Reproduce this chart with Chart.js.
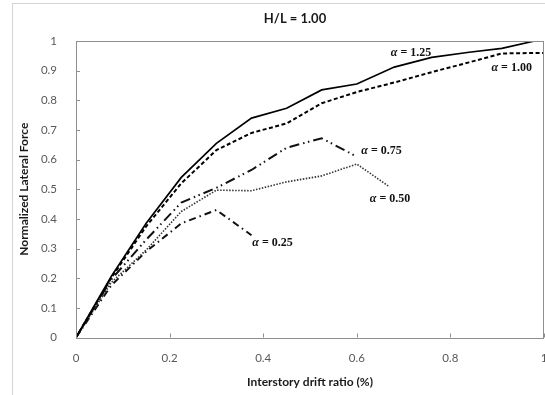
<!DOCTYPE html>
<html>
<head>
<meta charset="utf-8">
<script src="https://cdn.jsdelivr.net/npm/chart.js@4/dist/chart.umd.min.js"></script>
<style>
  body { margin: 0; background: #fff; }
  canvas { display: block; }
</style>
</head>
<body>
<canvas id="grafico" width="545" height="395"></canvas>
<script>
// drift ratio (%) and normalized force, one pair of arrays per alpha
const driftA125 = [0, 0.075, 0.15, 0.225, 0.3, 0.375, 0.45, 0.525, 0.6, 0.68, 0.76, 0.84, 0.91, 0.98, 1.0]
const forceA125 = [0, 0.205, 0.385, 0.54, 0.655, 0.74, 0.773, 0.835, 0.855, 0.912, 0.945, 0.962, 0.975, 1.0, 1.0]

const driftA100 = [0, 0.075, 0.15, 0.225, 0.3, 0.375, 0.45, 0.525, 0.6, 0.68, 0.76, 0.84, 0.91, 1.0]
const forceA100 = [0, 0.2, 0.375, 0.52, 0.632, 0.69, 0.722, 0.79, 0.828, 0.86, 0.895, 0.928, 0.958, 0.96]

const driftA075 = [0, 0.075, 0.15, 0.225, 0.3, 0.375, 0.45, 0.525, 0.6]
const forceA075 = [0, 0.195, 0.33, 0.455, 0.505, 0.565, 0.64, 0.672, 0.61]

const driftA050 = [0, 0.075, 0.15, 0.225, 0.3, 0.375, 0.45, 0.525, 0.6, 0.67]
const forceA050 = [0, 0.185, 0.295, 0.425, 0.497, 0.495, 0.525, 0.545, 0.585, 0.508]

const driftA025 = [0, 0.075, 0.15, 0.225, 0.3, 0.375]
const forceA025 = [0, 0.175, 0.29, 0.385, 0.43, 0.345]

const alphaLabels = ['1.25', '1.00', '0.75', '0.50', '0.25']
const xTicks = [0, 0.2, 0.4, 0.6, 0.8, 1]
const yTicks = [0, 0.1, 0.2, 0.3, 0.4, 0.5, 0.6, 0.7, 0.8, 0.9, 1]

function pares(xs, ys) {
    return xs.map((x, i) => ({ x: x, y: ys[i] }))
}

function rotulo(v) {
    return String(Math.round(v * 10) / 10)
}

// where each alpha label sits, in data units
const labelPos = [
    { x: 0.716, y: 0.96 },
    { x: 0.931, y: 0.909 },
    { x: 0.653, y: 0.63 },
    { x: 0.671, y: 0.467 },
    { x: 0.42, y: 0.32 }
]

const extras = {
    id: 'extras',
    afterDraw(chart) {
        const ctx = chart.ctx
        const a = chart.chartArea
        const sx = chart.scales.x
        const sy = chart.scales.y
        ctx.save()

        // outer frame
        ctx.strokeStyle = '#d4d4d4'
        ctx.lineWidth = 1
        ctx.strokeRect(12.5, 3.5, 700, 600)

        // plot box
        ctx.strokeStyle = '#8e8e8e'
        ctx.strokeRect(Math.round(a.left) + 0.5, Math.round(a.top) + 0.5,
            Math.round(a.right - a.left) - 1, Math.round(a.bottom - a.top))

        // inside tick marks
        ctx.beginPath()
        xTicks.forEach(v => {
            const px = Math.round(sx.getPixelForValue(v)) + 0.5
            ctx.moveTo(px, a.bottom)
            ctx.lineTo(px, a.bottom - 4)
        })
        yTicks.forEach(v => {
            const py = Math.round(sy.getPixelForValue(v)) + 0.5
            ctx.moveTo(a.left, py)
            ctx.lineTo(a.left + 4, py)
        })
        ctx.stroke()

        // title
        ctx.fillStyle = '#1a1a1a'
        ctx.font = '700 13px Lato'
        ctx.textAlign = 'center'
        ctx.textBaseline = 'middle'
        ctx.fillText('H/L = 1.00', 295, 19)

        // alpha labels
        ctx.fillStyle = '#111'
        ctx.textAlign = 'left'
        alphaLabels.forEach((t, i) => {
            const p = labelPos[i]
            const cx = sx.getPixelForValue(p.x)
            const cy = sy.getPixelForValue(p.y)
            const rest = ' = ' + t
            ctx.font = 'italic bold 12px "Liberation Serif"'
            const w1 = ctx.measureText('α').width
            ctx.font = 'bold 12px "Liberation Serif"'
            const w2 = ctx.measureText(rest).width
            const x0 = cx - (w1 + w2) / 2
            ctx.font = 'italic bold 12px "Liberation Serif"'
            ctx.fillText('α', x0, cy)
            ctx.font = 'bold 12px "Liberation Serif"'
            ctx.fillText(rest, x0 + w1, cy)
        })
        ctx.restore()
    }
}

const data = {
    datasets: [
        {
            label: 'α = 1.25',
            data: pares(driftA125, forceA125),
            borderColor: '#000',
            borderWidth: 1.7
        },
        {
            label: 'α = 1.00',
            data: pares(driftA100, forceA100),
            borderColor: '#000',
            borderWidth: 2,
            borderDash: [4, 2.5]
        },
        {
            label: 'α = 0.75',
            data: pares(driftA075, forceA075),
            borderColor: '#111',
            borderWidth: 2,
            borderDash: [10, 4, 1.5, 3.5, 1.5, 4]
        },
        {
            label: 'α = 0.50',
            data: pares(driftA050, forceA050),
            borderColor: '#333',
            borderWidth: 1.6,
            borderDash: [1.5, 1.5]
        },
        {
            label: 'α = 0.25',
            data: pares(driftA025, forceA025),
            borderColor: '#111',
            borderWidth: 2,
            borderDash: [7, 4, 1.5, 4]
        }
    ]
}

const tickFont = { family: 'Lato', size: 11.5 }
const titleFont = { family: 'Lato', size: 12, weight: 'bold' }

const config = {
    type: 'line',
    data: data,
    options: {
        responsive: false,
        animation: false,
        devicePixelRatio: 1,
        layout: { padding: { left: 0, right: 1, top: 41, bottom: 0 } },
        elements: { point: { radius: 0 }, line: { tension: 0, fill: false } },
        plugins: { legend: { display: false }, tooltip: { enabled: false } },
        scales: {
            x: {
                type: 'linear',
                min: 0,
                max: 1,
                afterBuildTicks: s => { s.ticks = xTicks.map(v => ({ value: v })) },
                ticks: { color: '#595959', font: tickFont, padding: 6, maxRotation: 0, callback: rotulo },
                grid: { display: false },
                border: { display: false },
                title: { display: true, text: 'Interstory drift ratio (%)', color: '#1a1a1a', font: titleFont, padding: { top: 0, bottom: 6 } },
                afterFit: s => { s.height = 57.5; s.paddingLeft = 0; s.paddingRight = 0 }
            },
            y: {
                min: 0,
                max: 1,
                afterBuildTicks: s => { s.ticks = yTicks.map(v => ({ value: v })) },
                ticks: { color: '#595959', font: tickFont, padding: 11, callback: rotulo },
                grid: { display: false },
                border: { display: false },
                title: { display: true, text: 'Normalized Lateral Force', color: '#1a1a1a', font: titleFont, padding: { top: 17, bottom: 0 } },
                afterFit: s => { s.width = 76; s.paddingTop = 0; s.paddingBottom = 0 }
            }
        }
    },
    plugins: [extras]
}

let graf = document.querySelector('#grafico').getContext('2d')
let myChart = new Chart(graf, config)
</script>
</body>
</html>
